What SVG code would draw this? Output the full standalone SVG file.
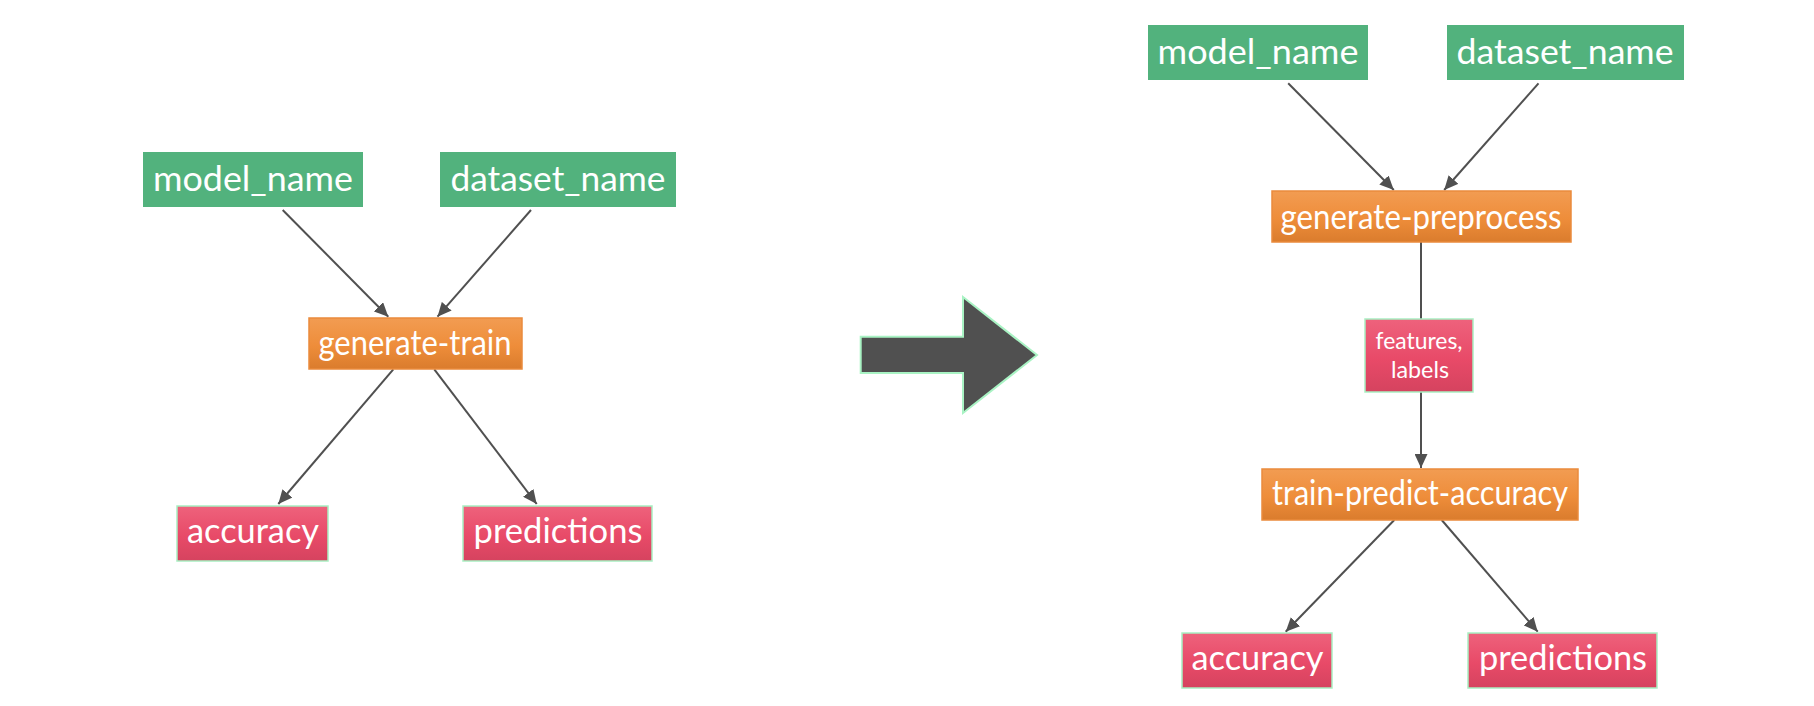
<svg xmlns="http://www.w3.org/2000/svg" width="1814" height="706" viewBox="0 0 1814 706">
<style>
  .g { fill: #52B27D; }
  .o { fill: url(#og); stroke: #EA8B3C; stroke-width: 1.5; }
  .r { fill: url(#rg); stroke: #A8EFC2; stroke-width: 1.5; }
  .t { font-family: Lato, "Open Sans", "Liberation Sans", sans-serif; font-size: 35px; fill: #FFFFFF; text-anchor: middle; }
  .ts { font-family: Lato, "Open Sans", "Liberation Sans", sans-serif; font-size: 24px; fill: #FFFFFF; text-anchor: middle; }
  .c { stroke: #505050; stroke-width: 2; fill: none; }
</style>
<defs>
  <linearGradient id="og" x1="0" y1="0" x2="0" y2="1">
    <stop offset="0" stop-color="#F29C52"/>
    <stop offset="0.55" stop-color="#EE8D3A"/>
    <stop offset="1" stop-color="#DA7C2D"/>
  </linearGradient>
  <linearGradient id="rg" x1="0" y1="0" x2="0" y2="1">
    <stop offset="0" stop-color="#EE627C"/>
    <stop offset="0.55" stop-color="#E84A68"/>
    <stop offset="1" stop-color="#D5435F"/>
  </linearGradient>
  <marker id="ah" markerUnits="userSpaceOnUse" markerWidth="15" markerHeight="13" refX="14" refY="6.5" orient="auto">
    <path d="M0,0 L14,6.5 L0,13 z" fill="#505050"/>
  </marker>
</defs>

<rect width="1814" height="706" fill="#FFFFFF"/>

<g id="connectors">
  <line class="c" x1="282.7" y1="210" x2="388.3" y2="316.7" marker-end="url(#ah)"/>
  <line class="c" x1="531" y1="210" x2="437.5" y2="316.7" marker-end="url(#ah)"/>
  <line class="c" x1="393.3" y1="369.3" x2="278.3" y2="504" marker-end="url(#ah)"/>
  <line class="c" x1="434.3" y1="369.3" x2="536.7" y2="504" marker-end="url(#ah)"/>
  <line class="c" x1="1288.2" y1="83.3" x2="1393.8" y2="190" marker-end="url(#ah)"/>
  <line class="c" x1="1538.5" y1="83.3" x2="1444.2" y2="190" marker-end="url(#ah)"/>
  <line class="c" x1="1421" y1="242" x2="1421" y2="319"/>
  <line class="c" x1="1421" y1="392" x2="1421" y2="468" marker-end="url(#ah)"/>
  <line class="c" x1="1394.3" y1="520" x2="1285.7" y2="631.7" marker-end="url(#ah)"/>
  <line class="c" x1="1441.7" y1="520" x2="1537.7" y2="631.7" marker-end="url(#ah)"/>
</g>

<g id="big-arrow">
  <polygon points="860.7,336.7 963,336.7 963,297 1037,355 963,413 963,373 860.7,373" fill="#505050" stroke="#A9F3C4" stroke-width="2"/>
</g>

<g id="left-model-name">
  <rect class="g" x="143" y="152" width="220" height="55"/>
  <text class="t" x="253" y="191" textLength="200" lengthAdjust="spacingAndGlyphs">model_name</text>
</g>
<g id="left-dataset-name">
  <rect class="g" x="440" y="152" width="236" height="55"/>
  <text class="t" x="558" y="191" textLength="215" lengthAdjust="spacingAndGlyphs">dataset_name</text>
</g>
<g id="left-generate-train">
  <rect class="o" x="309" y="318" width="213" height="51"/>
  <text class="t" x="415" y="355" textLength="193" lengthAdjust="spacingAndGlyphs">generate-train</text>
</g>
<g id="left-accuracy">
  <rect class="r" x="177" y="506" width="151" height="55"/>
  <text class="t" x="253" y="543" textLength="132" lengthAdjust="spacingAndGlyphs">accuracy</text>
</g>
<g id="left-predictions">
  <rect class="r" x="463" y="506" width="189" height="55"/>
  <text class="t" x="558" y="543" textLength="169" lengthAdjust="spacingAndGlyphs">predictions</text>
</g>

<g id="right-model-name">
  <rect class="g" x="1148" y="25" width="220" height="55"/>
  <text class="t" x="1258" y="64" textLength="201" lengthAdjust="spacingAndGlyphs">model_name</text>
</g>
<g id="right-dataset-name">
  <rect class="g" x="1447" y="25" width="237" height="55"/>
  <text class="t" x="1565" y="64" textLength="217" lengthAdjust="spacingAndGlyphs">dataset_name</text>
</g>
<g id="right-generate-preprocess">
  <rect class="o" x="1272" y="191" width="299" height="51"/>
  <text class="t" x="1421" y="229" textLength="281" lengthAdjust="spacingAndGlyphs">generate-preprocess</text>
</g>
<g id="right-features-labels">
  <rect class="r" x="1365" y="319" width="108" height="73"/>
  <text class="ts" x="1419" y="349" textLength="87" lengthAdjust="spacingAndGlyphs">features,</text>
  <text class="ts" x="1420" y="378" textLength="58" lengthAdjust="spacingAndGlyphs">labels</text>
</g>
<g id="right-train-predict-accuracy">
  <rect class="o" x="1262" y="469" width="316" height="51"/>
  <text class="t" x="1420" y="505" textLength="296" lengthAdjust="spacingAndGlyphs">train-predict-accuracy</text>
</g>
<g id="right-accuracy">
  <rect class="r" x="1182" y="633" width="150" height="55"/>
  <text class="t" x="1257.5" y="670" textLength="132" lengthAdjust="spacingAndGlyphs">accuracy</text>
</g>
<g id="right-predictions">
  <rect class="r" x="1468" y="633" width="189" height="55"/>
  <text class="t" x="1563" y="670" textLength="168" lengthAdjust="spacingAndGlyphs">predictions</text>
</g>
</svg>
